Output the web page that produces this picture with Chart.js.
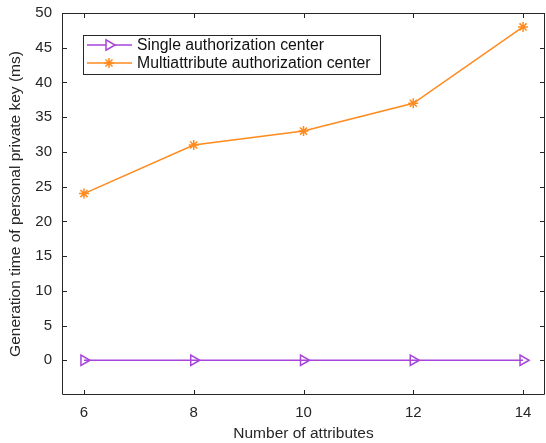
<!DOCTYPE html>
<html>
<head>
<meta charset="utf-8">
<script src="https://cdn.jsdelivr.net/npm/chart.js@4"></script>
<style>
  html, body { margin: 0; padding: 0; background: #fff; }
  #wrap { width: 546px; height: 443px; }
</style>
</head>
<body>
<div id="wrap"><canvas id="chart"></canvas></div>
<script>
const attributes = [6, 8, 10, 12, 14];
const singleCenter = [0, 0, 0, 0, 0];
const multiCenter = [24, 31, 33, 37, 48];
const xTicks = [6, 8, 10, 12, 14];
const yTicks = [0, 5, 10, 15, 20, 25, 30, 35, 40, 45, 50];

const purple = '#A845DA';
const orange = '#FF8A1E';
const family = 'Liberation Sans, Arial, Helvetica, sans-serif';
const tickFont = { family: family, size: 15 };
const titleFont = { family: family, size: 15.5 };
const legendSize = 15.8;

// box around the plot area + inward tick marks, MATLAB style
const boxPlugin = {
    id: 'box',
    afterDraw(chart) {
        const ctx = chart.ctx;
        const a = chart.chartArea;
        const x = chart.scales.x, y = chart.scales.y;
        ctx.save();
        ctx.strokeStyle = '#262626';
        ctx.lineWidth = 1;
        ctx.beginPath();
        ctx.rect(a.left + 0.5, a.top + 0.5, a.right - a.left - 1, a.bottom - a.top - 1);
        xTicks.forEach(v => {
            const px = Math.round(x.getPixelForValue(v)) + 0.5;
            ctx.moveTo(px, a.bottom); ctx.lineTo(px, a.bottom - 5);
            ctx.moveTo(px, a.top); ctx.lineTo(px, a.top + 5);
        });
        yTicks.forEach(v => {
            const py = Math.round(y.getPixelForValue(v)) + 0.5;
            ctx.moveTo(a.left, py); ctx.lineTo(a.left + 5, py);
            ctx.moveTo(a.right, py); ctx.lineTo(a.right - 5, py);
        });
        ctx.stroke();
        ctx.restore();
    }
};

// legend with line + marker samples
const legendPlugin = {
    id: 'lineLegend',
    afterDraw(chart) {
        const ctx = chart.ctx;
        const left = 83, top = 35, w = 297, h = 39;
        ctx.save();
        ctx.fillStyle = '#fff';
        ctx.fillRect(left, top, w, h);
        ctx.strokeStyle = '#262626';
        ctx.lineWidth = 1;
        ctx.strokeRect(left + 0.5, top + 0.5, w, h);
        chart.data.datasets.forEach((ds, i) => {
            const cy = 45 + i * 18;
            ctx.strokeStyle = ds.borderColor;
            ctx.lineWidth = ds.borderWidth;
            ctx.beginPath();
            ctx.moveTo(87, cy); ctx.lineTo(132, cy);
            ctx.stroke();
            Chart.helpers.drawPoint(ctx, {
                pointStyle: ds.pointStyle,
                rotation: ds.pointRotation || 0,
                radius: ds.pointRadius,
                borderWidth: ds.pointBorderWidth
            }, 109, cy);
            ctx.fillStyle = '#111';
            ctx.font = legendSize + 'px ' + family;
            ctx.textBaseline = 'middle';
            ctx.fillText(ds.label, 137, cy + 1);
        });
        ctx.restore();
    }
};

new Chart(document.getElementById('chart'), {
    type: 'line',
    data: {
        datasets: [{
            label: 'Single authorization center',
            data: attributes.map((a, i) => ({ x: a, y: singleCenter[i] })),
            borderColor: purple,
            backgroundColor: 'rgba(0,0,0,0)',
            borderWidth: 1.5,
            pointStyle: 'triangle',
            pointRotation: 90,
            pointRadius: 6,
            pointBorderWidth: 1.5,
            pointBorderColor: purple,
            pointBackgroundColor: 'rgba(0,0,0,0)'
        }, {
            label: 'Multiattribute authorization center',
            data: attributes.map((a, i) => ({ x: a, y: multiCenter[i] })),
            borderColor: orange,
            backgroundColor: 'rgba(0,0,0,0)',
            borderWidth: 1.5,
            pointStyle: 'star',
            pointRadius: 5,
            pointBorderWidth: 1.5,
            pointBorderColor: orange,
            pointBackgroundColor: orange
        }]
    },
    options: {
        responsive: true,
        maintainAspectRatio: false,
        animation: false,
        layout: { autoPadding: false, padding: { top: 13, right: 1, left: 0, bottom: 0 } },
        plugins: {
            legend: { display: false },
            tooltip: { enabled: false }
        },
        scales: {
            x: {
                type: 'linear',
                min: 5.6,
                max: 14.4,
                afterBuildTicks: s => { s.ticks = xTicks.map(v => ({ value: v })); },
                afterFit: s => { s.height = 48; s.paddingLeft = 0; s.paddingRight = 0; },
                grid: { display: false, drawTicks: false },
                border: { display: false },
                ticks: { color: '#262626', font: tickFont, padding: 9, maxRotation: 0 },
                title: {
                    display: true,
                    text: 'Number of attributes',
                    color: '#262626',
                    font: titleFont,
                    padding: { top: 1, bottom: 0 }
                }
            },
            y: {
                min: -5,
                max: 50,
                afterBuildTicks: s => { s.ticks = yTicks.map(v => ({ value: v })); },
                afterFit: s => { s.width = 62; s.paddingTop = 0; s.paddingBottom = 0; },
                grid: { display: false, drawTicks: false },
                border: { display: false },
                ticks: { color: '#262626', font: tickFont, padding: 10 },
                title: {
                    display: true,
                    text: 'Generation time of personal private key (ms)',
                    color: '#262626',
                    font: titleFont,
                    padding: { top: 6, bottom: 0 }
                }
            }
        }
    },
    plugins: [boxPlugin, legendPlugin]
});
</script>
</body>
</html>
